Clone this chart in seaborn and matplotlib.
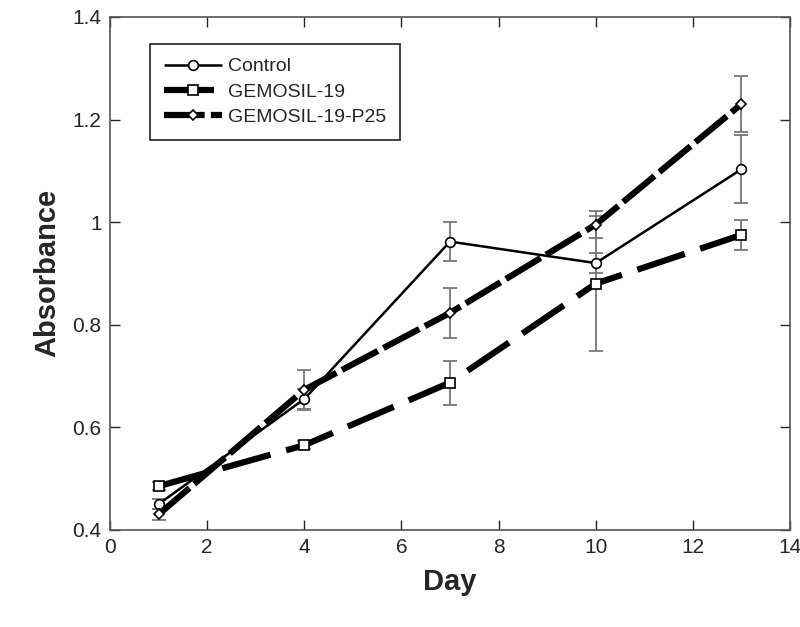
import numpy as np
import pandas as pd
import matplotlib
matplotlib.use("Agg")
import matplotlib.pyplot as plt
import seaborn as sns

days = [1, 4, 7, 10, 13]

control = [0.45, 0.655, 0.962, 0.92, 1.103]
control_err = [0.01, 0.02, 0.038, 0.02, 0.066]

gemosil19 = [0.485, 0.565, 0.687, 0.88, 0.975]
gemosil19_err = [0.008, 0.008, 0.043, 0.132, 0.03]

gemosil19_p25 = [0.43, 0.673, 0.823, 0.995, 1.23]
gemosil19_p25_err = [0.01, 0.039, 0.049, 0.026, 0.055]

series_names = ["Control", "GEMOSIL-19", "GEMOSIL-19-P25"]


def plot_absorbance():
    sns.set_style("ticks")
    plt.rcParams["font.family"] = ["Liberation Sans", "DejaVu Sans"]

    fig = plt.figure(figsize=(8, 6.27), dpi=100)
    ax = fig.add_axes([0.1375, 0.155, 0.85, 0.818])

    values = [control, gemosil19, gemosil19_p25]
    errors = [control_err, gemosil19_err, gemosil19_p25_err]
    markers = ["o", "s", "D"]
    msizes = [7, 7, 5]
    lws = [1.8, 4.5, 4.5]
    dashes = [None, (8.0, 2.6), (6.5, 1.0)]

    for name, vals, errs, mk, ms, lw, ds in zip(
        series_names, values, errors, markers, msizes, lws, dashes
    ):
        ax.errorbar(days, vals, yerr=errs, fmt="none", ecolor="#777777",
                    elinewidth=1.3, capsize=5, capthick=1.3, zorder=2)
        sns.lineplot(x=days, y=vals, ax=ax, color="black", linewidth=lw,
                     marker=mk, markersize=ms, markerfacecolor="white",
                     markeredgecolor="black", markeredgewidth=1.2,
                     label=name, zorder=3)
        line = ax.get_lines()[-1]
        if ds is not None:
            line.set_dashes(ds)
        line.set_solid_capstyle("butt")
        line.set_dash_capstyle("butt")

    ax.set_xlim(0, 14)
    ax.set_ylim(0.4, 1.4)
    ax.set_xticks(np.arange(0, 15, 2))
    ax.set_yticks([0.4, 0.6, 0.8, 1.0, 1.2, 1.4])
    ax.set_yticklabels(["0.4", "0.6", "0.8", "1", "1.2", "1.4"])
    ax.tick_params(direction="in", length=7, width=1, labelsize=15,
                   top=True, right=True, pad=6)
    for sp in ax.spines.values():
        sp.set_visible(True)
        sp.set_color("#555555")
        sp.set_linewidth(1.2)

    ax.set_xlabel("Day", fontsize=21, fontweight="bold", labelpad=8)
    ax.set_ylabel("Absorbance", fontsize=21, fontweight="bold", labelpad=8)

    leg = ax.legend(loc="upper left", bbox_to_anchor=(0.059, 0.947),
                    borderaxespad=0, fontsize=14, frameon=True,
                    fancybox=False, handlelength=3.0, borderpad=0.7,
                    labelspacing=0.4, handletextpad=0.3)
    leg.get_frame().set_edgecolor("black")
    leg.get_frame().set_linewidth(1.3)

    fig.savefig("out.png", dpi=100)
    plt.close(fig)


plot_absorbance()
